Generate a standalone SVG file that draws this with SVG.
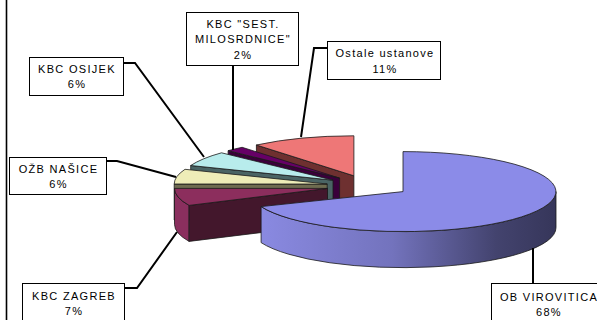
<svg xmlns="http://www.w3.org/2000/svg" width="597" height="320" viewBox="0 0 597 320">
<defs>
<style>
.edge{stroke:#1a1a1a;stroke-width:0.8;stroke-linejoin:round}
.box{fill:#fff;stroke:#000;stroke-width:1}
.lbl{font-family:"Liberation Sans",Arial,sans-serif;font-size:11px;letter-spacing:1.3px;fill:#000;text-anchor:middle}
.lead{fill:none;stroke:#000;stroke-width:2;stroke-linejoin:miter}
</style>
<linearGradient id="viroSide" gradientUnits="userSpaceOnUse" x1="258" y1="0" x2="556" y2="0">
<stop offset="0" stop-color="#8a8ae2"/>
<stop offset="0.45" stop-color="#7373bd"/>
<stop offset="0.8" stop-color="#43436e"/>
<stop offset="1" stop-color="#36365a"/>
</linearGradient>
</defs>
<rect width="597" height="320" fill="#fff"/>
<line x1="6.5" y1="0" x2="6.5" y2="320" stroke="#000" stroke-width="1.6"/>

<g id="slice-ostale">
<path class="edge" fill="#6e3030" d="M353.9 175.8 L256.4 145 L256.4 181 L353.9 211.8 Z"/>
<path class="edge" fill="#ee7777" d="M353.9 175.8 L256.4 145 A153 40 0 0 1 353.9 135.8 Z"/>
</g>
<g id="slice-milosrdnice">
<path class="edge" fill="#3a003a" d="M339.6 178.1 L228.1 150.7 L228.1 186.7 L339.6 214.1 Z"/>
<path class="edge" fill="#660066" d="M339.6 178.1 L228.1 150.7 A153 40 0 0 1 242.1 147.3 Z"/>
</g>
<g id="slice-osijek">
<path class="edge" fill="#4a6464" d="M333 180.2 L190.7 165.5 L190.7 201.5 L333 216.2 Z"/>
<path class="edge" fill="#b8ecec" d="M333 180.2 L190.7 165.5 A153 40 0 0 1 221.5 152.8 Z"/>
</g>
<g id="slice-nasice">
<path class="edge" fill="#6e6c50" d="M327.2 184 L174.2 184 L174.2 220 L327.2 220 Z"/>
<path class="edge" fill="#eeedb8" d="M327.2 184 L174.2 184 A153 40 0 0 1 185 169.3 Z"/>
</g>
<g id="slice-zagreb">
<path class="edge" fill="#8a2f5e" d="M189.1 205.4 A153 40 0 0 1 174.5 188.4 L174.5 224.4 A153 40 0 0 0 189.1 241.4 Z"/>
<path class="edge" fill="#43172c" d="M327.5 188.4 L189.1 205.4 L189.1 241.4 L327.5 224.4 Z"/>
<path class="edge" fill="#8c2e5d" d="M327.5 188.4 L189.1 205.4 A153 40 0 0 1 174.5 188.4 Z"/>
</g>
<g id="slice-virovitica">
<path class="edge" fill="url(#viroSide)" d="M556 191.6 A153 40 0 0 1 261.1 206.6 L261.1 242.6 A153 40 0 0 0 556 227.6 Z"/>
<path class="edge" fill="#8b8be8" d="M403 191.6 L403 151.6 A153 40 0 1 1 261.1 206.6 Z"/>
</g>

<g id="connectors">
<polyline class="lead" points="233,65 233,150"/>
<polyline class="lead" points="123,63 135,63 204,157"/>
<polyline class="lead" points="106,161 117,161 176,177"/>
<polyline class="lead" points="124,288 137,288 177,232"/>
<polyline class="lead" points="328,48 314,48 301,137"/>
<polyline class="lead" points="533,248 533,283"/>
</g>

<g id="label-milosrdnice">
<rect class="box" x="186.5" y="12.5" width="112" height="53"/>
<text class="lbl" x="243" y="28">KBC "SEST.</text>
<text class="lbl" x="243" y="43">MILOSRDNICE"</text>
<text class="lbl" x="243" y="58.5">2%</text>
</g>
<g id="label-osijek">
<rect class="box" x="29.5" y="57.5" width="94" height="38"/>
<text class="lbl" x="77" y="73">KBC OSIJEK</text>
<text class="lbl" x="77" y="87.5">6%</text>
</g>
<g id="label-nasice">
<rect class="box" x="9.5" y="157.5" width="97" height="37"/>
<text class="lbl" x="58.5" y="173">OŽB NAŠICE</text>
<text class="lbl" x="58.5" y="188">6%</text>
</g>
<g id="label-zagreb">
<rect class="box" x="22.5" y="283.5" width="102" height="42"/>
<text class="lbl" x="74" y="300">KBC ZAGREB</text>
<text class="lbl" x="74" y="315">7%</text>
</g>
<g id="label-ostale">
<rect class="box" x="327.5" y="41.5" width="113" height="38"/>
<text class="lbl" x="385" y="57">Ostale ustanove</text>
<text class="lbl" x="385" y="73">11%</text>
</g>
<g id="label-virovitica">
<rect class="box" x="491.5" y="283.5" width="110" height="42"/>
<text class="lbl" x="549" y="301">OB VIROVITICA</text>
<text class="lbl" x="549" y="316">68%</text>
</g>
</svg>
